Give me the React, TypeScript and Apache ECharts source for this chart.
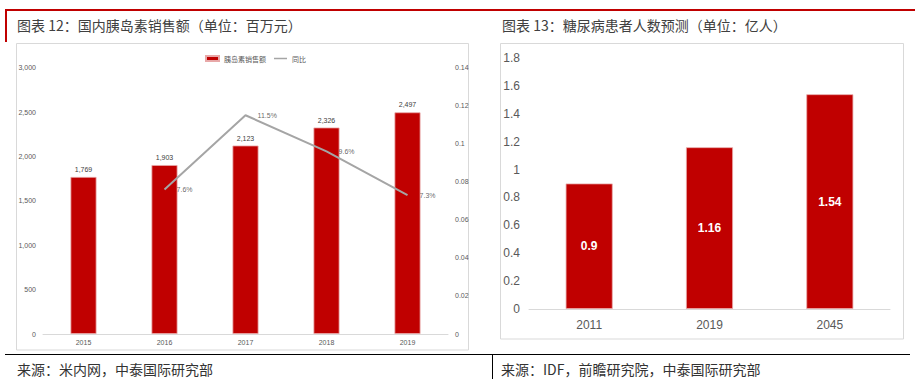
import React, { useEffect, useRef } from "react";
import * as echarts from "echarts";

const salesYears = ["2015", "2016", "2017", "2018", "2019"];
const salesValues = [1769, 1903, 2123, 2326, 2497];
const yoyValues: (number | null)[] = [null, 0.076, 0.115, 0.096, 0.073];
const patientYears = ["2011", "2019", "2045"];
const patientValues = [0.9, 1.16, 1.54];

const title1 = "图表 12：国内胰岛素销售额（单位：百万元）";
const title2 = "图表 13：糖尿病患者人数预测（单位：亿人）";
const source1 = "来源：米内网，中泰国际研究部";
const source2 = "来源：IDF，前瞻研究院，中泰国际研究部";
const salesName = "胰岛素销售额";
const yoyName = "同比";

const RED = "#C00000";
const CJK = "'Noto Sans CJK SC', 'Noto Sans', sans-serif";
const NUM = "'Liberation Sans', 'Noto Sans', sans-serif";

export default function App() {
  const ref = useRef<HTMLDivElement>(null);
  useEffect(() => {
    document.body.style.margin = "0";
    const chart = echarts.init(ref.current!, undefined, { renderer: "svg" });
    const small = { fontSize: 7, color: "#595959", fontFamily: NUM };
    chart.setOption({
      animation: false,
      backgroundColor: "#ffffff",
      textStyle: { fontFamily: NUM },
      legend: {
        left: 200,
        top: 50,
        itemWidth: 13,
        itemHeight: 5,
        itemGap: 8,
        symbolKeepAspect: true,
        textStyle: { fontSize: 7, color: "#595959", fontFamily: CJK },
        data: [
          { name: salesName, icon: "rect" },
          { name: yoyName, icon: "path://M0,0 L26,0 L26,3 L0,3 Z" },
        ],
      },
      grid: [
        { left: 43, top: 67.7, width: 405, height: 266.3 },
        { left: 529, top: 58, width: 361, height: 251 },
      ],
      xAxis: [
        {
          type: "category",
          gridIndex: 0,
          data: salesYears,
          axisLine: { lineStyle: { color: "#D9D9D9", width: 1 } },
          axisTick: { show: false },
          axisLabel: { ...small, margin: 5 },
        },
        {
          type: "category",
          gridIndex: 1,
          data: patientYears,
          axisLine: { lineStyle: { color: "#D9D9D9", width: 1 } },
          axisTick: { show: false },
          axisLabel: { fontSize: 12, color: "#595959", fontFamily: NUM, margin: 10 },
        },
      ],
      yAxis: [
        {
          type: "value",
          gridIndex: 0,
          min: 0,
          max: 3000,
          interval: 500,
          splitLine: { show: false },
          axisLine: { show: false },
          axisTick: { show: false },
          axisLabel: {
            ...small,
            margin: 7,
            formatter: (v: number) => v.toLocaleString("en-US"),
          },
        },
        {
          type: "value",
          gridIndex: 0,
          position: "right",
          min: 0,
          max: 0.14,
          interval: 0.02,
          splitLine: { show: false },
          axisLine: { show: false },
          axisTick: { show: false },
          axisLabel: {
            ...small,
            margin: 7,
            formatter: (v: number) => String(Math.round(v * 100) / 100),
          },
        },
        {
          type: "value",
          gridIndex: 1,
          min: 0,
          max: 1.8,
          interval: 0.2,
          splitLine: { show: false },
          axisLine: { show: false },
          axisTick: { show: false },
          axisLabel: {
            fontSize: 12,
            color: "#595959",
            fontFamily: NUM,
            margin: 9,
            formatter: (v: number) => String(Math.round(v * 10) / 10),
          },
        },
      ],
      series: [
        {
          name: salesName,
          type: "bar",
          xAxisIndex: 0,
          yAxisIndex: 0,
          data: salesValues,
          barWidth: 26,
          itemStyle: { color: RED, borderColor: "#E8A8A8", borderWidth: 0.8 },
          label: {
            show: true,
            position: "top",
            distance: 4,
            fontSize: 7,
            color: "#404040",
            fontFamily: NUM,
            formatter: (p: any) => Number(p.value).toLocaleString("en-US"),
          },
        },
        {
          name: yoyName,
          type: "line",
          xAxisIndex: 0,
          yAxisIndex: 1,
          data: yoyValues,
          symbol: "none",
          connectNulls: false,
          lineStyle: { color: "#A5A5A5", width: 2 },
          itemStyle: { color: "#A5A5A5" },
        },
        {
          name: "同比标签",
          type: "scatter",
          xAxisIndex: 0,
          yAxisIndex: 1,
          data: yoyValues,
          symbolSize: 0.1,
          itemStyle: { color: "rgba(0,0,0,0)" },
          label: {
            show: true,
            position: "right",
            distance: 12,
            fontSize: 7,
            color: "#404040",
            fontFamily: NUM,
            formatter: (p: any) => {
              const v = Array.isArray(p.value) ? p.value[1] : p.value;
              return v == null ? "" : (v * 100).toFixed(1) + "%";
            },
          },
        },
        {
          name: "糖尿病患者人数",
          type: "bar",
          xAxisIndex: 1,
          yAxisIndex: 2,
          data: patientValues,
          barWidth: 47,
          itemStyle: { color: RED, borderColor: "#E8A8A8", borderWidth: 0.8 },
          label: {
            show: true,
            position: "inside",
            fontSize: 12,
            fontWeight: "bold",
            color: "#ffffff",
            fontFamily: NUM,
          },
        },
      ],
      graphic: [
        { type: "rect", shape: { x: 5, y: 9, width: 910, height: 2 }, style: { fill: RED } },
        { type: "rect", shape: { x: 5, y: 9, width: 2, height: 33 }, style: { fill: RED } },
        {
          type: "text",
          x: 17,
          y: 25,
          style: { text: title1, fontSize: 14, fill: "#404040", fontFamily: CJK, verticalAlign: "middle" },
        },
        {
          type: "text",
          x: 502,
          y: 25,
          style: { text: title2, fontSize: 14, fill: "#404040", fontFamily: CJK, verticalAlign: "middle" },
        },
        {
          type: "rect",
          shape: { x: 16.5, y: 43.5, width: 452, height: 306.5 },
          style: { fill: "none", stroke: "#D9D9D9", lineWidth: 1 },
        },
        {
          type: "rect",
          shape: { x: 500.5, y: 43.5, width: 403, height: 295.5 },
          style: { fill: "none", stroke: "#D9D9D9", lineWidth: 1 },
        },
        {
          type: "line",
          shape: { x1: 5, y1: 354.5, x2: 910, y2: 354.5 },
          style: { stroke: "#000000", lineWidth: 1.2 },
        },
        {
          type: "line",
          shape: { x1: 492.5, y1: 354.5, x2: 492.5, y2: 379 },
          style: { stroke: "#000000", lineWidth: 1 },
        },
        {
          type: "text",
          x: 17,
          y: 369,
          style: { text: source1, fontSize: 14, fill: "#333333", fontFamily: CJK, verticalAlign: "middle" },
        },
        {
          type: "text",
          x: 501,
          y: 369,
          style: { text: source2, fontSize: 14, fill: "#333333", fontFamily: CJK, verticalAlign: "middle" },
        },
      ],
    });
    return () => chart.dispose();
  }, []);
  return (
    <div
      ref={ref}
      style={{ position: "absolute", left: 0, top: 0, width: 915, height: 379 }}
    />
  );
}
